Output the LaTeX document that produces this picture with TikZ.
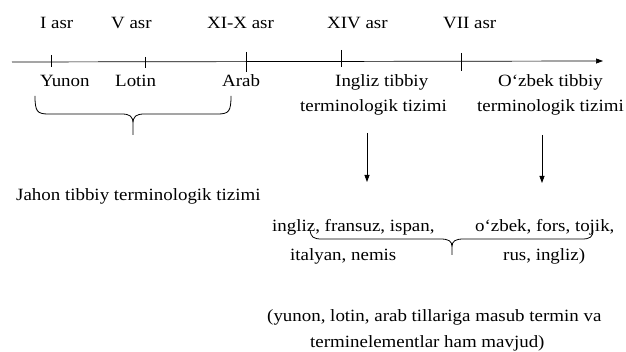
\documentclass[tikz,border=0pt]{standalone}
\usepackage{fontspec}
\setmainfont{Liberation Serif}[FakeStretch=1.1]
\usetikzlibrary{arrows.meta}
\begin{document}
\begin{tikzpicture}[x=1pt,y=-1pt,
  lbl/.style={inner sep=0pt,anchor=base,font=\fontsize{17.2}{20}\selectfont},
  lbll/.style={lbl,anchor=base west},
  tick/.style={line width=0.7pt},
  axis/.style={line width=0.7pt,-{Triangle[length=7pt,width=5pt]}},
  arr/.style={line width=0.8pt,-{Triangle[length=7pt,width=5pt]}},
  brace/.style={line width=0.8pt}]
\useasboundingbox (0,0) rectangle (626,352);
% axis
\coordinate (a0) at (12,62);
\coordinate (a1) at (603,61);
\draw[axis] (a0) -- (a1);
% ticks
\coordinate (t1a) at (51,55); \coordinate (t1b) at (51,67);
\coordinate (t2a) at (145,57); \coordinate (t2b) at (145,68);
\coordinate (t3a) at (246,52); \coordinate (t3b) at (246,72);
\coordinate (t4a) at (341,50); \coordinate (t4b) at (341,67);
\coordinate (t5a) at (461,53); \coordinate (t5b) at (461,71);
\draw[tick] (t1a) -- (t1b);
\draw[tick] (t2a) -- (t2b);
\draw[tick] (t3a) -- (t3b);
\draw[tick] (t4a) -- (t4b);
\draw[tick] (t5a) -- (t5b);
% labels above
\node[lbll] (c1) at (40,29) {I asr};
\node[lbll] (c2) at (111,29) {V asr};
\node[lbll] (c3) at (207,29) {XI-X asr};
\node[lbll] (c4) at (327,29) {XIV asr};
\node[lbll] (c5) at (443,29) {VII asr};
% labels below
\node[lbll] (yun) at (40,87) {Yunon};
\node[lbll] (lot) at (115,87) {Lotin};
\node[lbll] (arb) at (222,87) {Arab};
\node[lbll] (ing1) at (335,87) {Ingliz tibbiy};
\node[lbll] (ing2) at (300,112) {terminologik tizimi};
\node[lbll] (uz1) at (498,87) {O‘zbek tibbiy};
\node[lbll] (uz2) at (477,112) {terminologik tizimi};
% brace 1
\draw[brace] (35,96) .. controls (35,111) and (37,114) .. (48,114) -- (121,114)
  .. controls (130,114) and (133,116) .. (133,124) -- (133,135)
  (133,124) .. controls (133,116) and (136,114) .. (145,114) -- (218,114)
  .. controls (229,114) and (231,111) .. (231,96);
\node[lbll] (jahon) at (16,201) {Jahon tibbiy terminologik tizimi};
% arrows
\coordinate (ar1s) at (367,133); \coordinate (ar1e) at (367,182);
\coordinate (ar2s) at (542,135); \coordinate (ar2e) at (542,183);
\draw[arr] (ar1s) -- (ar1e);
\draw[arr] (ar2s) -- (ar2e);
% languages
\node[lbll] (l1) at (272,232) {ingliz, fransuz, ispan,};
\node[lbll] (l2) at (290,261) {italyan, nemis};
\node[lbll] (r1) at (475,232) {o‘zbek, fors, tojik,};
\node[lbll] (r2) at (503,261) {rus, ingliz)};
% brace 2
\draw[brace] (310,230) .. controls (311,237) and (313,239) .. (322,239) -- (440,239)
  .. controls (449,239) and (452,241) .. (452,247) -- (452,255)
  (452,247) .. controls (452,241) and (455,239) .. (464,239) -- (582,239)
  .. controls (590,239) and (593,237) .. (593,230);
% note
\node[lbll] (n1) at (267,322) {(yunon, lotin, arab tillariga masub termin va};
\node[lbll] (n2) at (310,347) {terminelementlar ham mavjud)};
\end{tikzpicture}
\end{document}
